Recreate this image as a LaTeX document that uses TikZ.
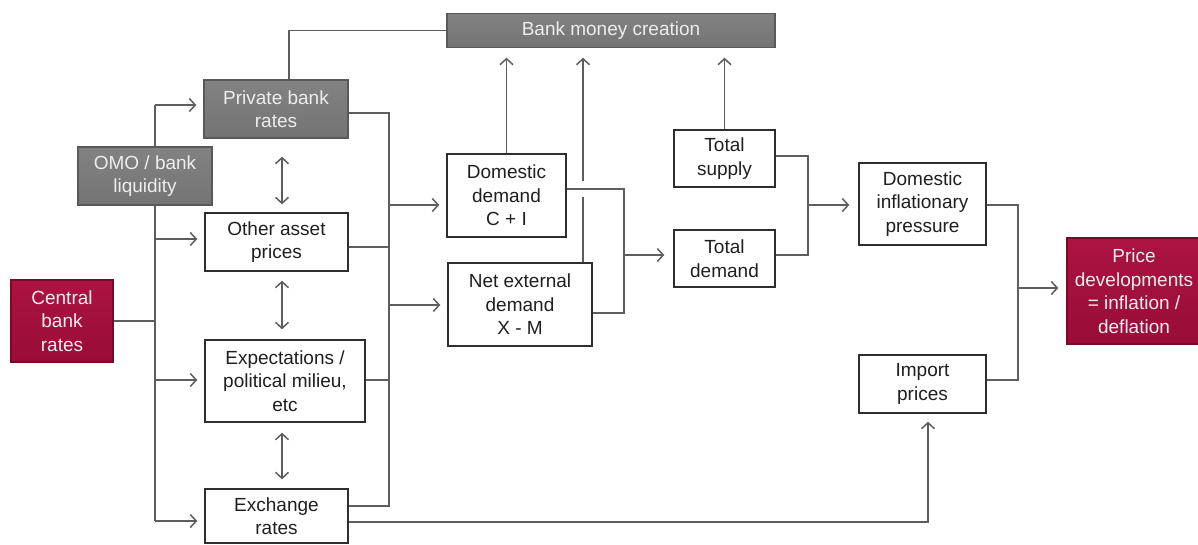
\documentclass[tikz,border=0pt]{standalone}
\usepackage{fontspec}
\setmainfont{Liberation Sans}
\usetikzlibrary{arrows.meta,calc}
\pgfdeclarelayer{back}
\pgfdeclarelayer{bg}
\pgfsetlayers{back,bg,main}
\definecolor{crimtop}{HTML}{AC1342}
\definecolor{crimbot}{HTML}{980D37}
\definecolor{greytop}{HTML}{828282}
\definecolor{greybot}{HTML}{747474}
\definecolor{lncol}{HTML}{5E5E5E}
\begin{document}
\begin{tikzpicture}[x=1pt,y=-1pt,
  box/.style={draw=black!82,line width=1.4pt,fill=white,text=black!88,align=center,inner sep=0pt,
    font=\fontsize{19}{23.5}\selectfont},
  gbox/.style={box,draw=black!65,top color=greytop,bottom color=greybot,text=white!93!black},
  rbox/.style={box,draw=crimbot!80!black,top color=crimtop,bottom color=crimbot,text=white!93!black},
  ln/.style={draw=lncol,line width=1.8pt},
  ar/.style={ln,-{Straight Barb[length=6pt,width=13pt,line width=1.5pt]},shorten >=7pt},
  dar/.style={ln,{Straight Barb[length=6pt,width=13pt,line width=1.5pt]}-{Straight Barb[length=6pt,width=13pt,line width=1.5pt]}}
]
\path[use as bounding box] (0,0) rectangle (1198,544);
\begin{pgfonlayer}{back}
\fill[white] (0,0) rectangle (1198,544);
\end{pgfonlayer}

% nodes
\node[gbox,minimum width=328pt,minimum height=34pt] (bmc) at (611,30.5) {Bank money creation};
\node[gbox,minimum width=144pt,minimum height=58pt] (pbr) at (276,109) {Private bank\\rates};
\node[gbox,minimum width=134pt,minimum height=58pt] (omo) at (145,176) {OMO / bank\\liquidity};
\node[box,minimum width=143pt,minimum height=58pt] (oap) at (276.5,242) {Other asset\\prices};
\node[box,minimum width=160pt,minimum height=82pt] (exp) at (285,381) {Expectations /\\political milieu,\\etc};
\node[box,minimum width=143pt,minimum height=54pt] (exr) at (276.5,516) {Exchange\\rates};
\node[rbox,minimum width=102pt,minimum height=82pt] (cbr) at (62,321) {Central\\bank\\rates};
\node[box,minimum width=119pt,minimum height=83pt] (dd) at (506.5,195.5) {Domestic\\demand\\C + I};
\node[box,minimum width=144pt,minimum height=83pt] (ned) at (520,304.5) {Net external\\demand\\X - M};
\node[box,minimum width=101pt,minimum height=57pt] (ts) at (724.5,158.5) {Total\\supply};
\node[box,minimum width=101pt,minimum height=57pt] (td) at (724.5,258.5) {Total\\demand};
\node[box,minimum width=127pt,minimum height=82pt] (dip) at (922.5,204) {Domestic\\inflationary\\pressure};
\node[box,minimum width=127pt,minimum height=58pt] (imp) at (922.5,384) {Import\\prices};
\node[rbox,minimum width=134pt,minimum height=106pt] (pd) at (1134,291) {Price\\developments\\= inflation /\\deflation};

% coordinates
\coordinate (tA) at (155,105);
\coordinate (tB) at (155,239);
\coordinate (tC) at (155,380);
\coordinate (tD) at (155,521);
\coordinate (bT) at (389,113);
\coordinate (bO) at (389,247);
\coordinate (bE) at (389,380);
\coordinate (bB) at (389,506);
\coordinate (b1) at (389,205);
\coordinate (b2) at (389,305);
\coordinate (p1) at (289,30.5);
\coordinate (n1) at (583,197);
\coordinate (n2) at (583,181);
\coordinate (j1) at (624,189);
\coordinate (j2) at (624,313);
\coordinate (j3) at (624,255);
\coordinate (k1) at (808,156);
\coordinate (k2) at (808,255);
\coordinate (k3) at (808,205);
\coordinate (m1) at (1018,205);
\coordinate (m2) at (1018,380);
\coordinate (m3) at (1018,288);
\coordinate (e1) at (928,522);

\begin{pgfonlayer}{bg}
% central bank trunk
\draw[ln] (cbr.east) -- (cbr.east -| tA);
\draw[ln] (tA) -- (tD);
\draw[ar] (tA) -- (tA -| pbr.west);
\draw[ar] (tB) -- (tB -| oap.west);
\draw[ar] (tC) -- (tC -| exp.west);
\draw[ar] (tD) -- (tD -| exr.west);
% double arrows
\draw[dar] ($(pbr.south)+(6,18)$) -- ($(oap.north)+(5.5,-8)$);
\draw[dar] ($(oap.south)+(5.5,9)$) -- ($(exp.north)+(-3,-10)$);
\draw[dar] ($(exp.south)+(-3,10)$) -- ($(exr.north)+(5.5,-9)$);
% right bus
\draw[ln] (bT -| pbr.east) -- (bT) -- (bB) -- (bB -| exr.east);
\draw[ln] (bO -| oap.east) -- (bO);
\draw[ln] (bE -| exp.east) -- (bE);
\draw[ar] (b1) -- (b1 -| dd.west);
\draw[ar] (b2) -- (b2 -| ned.west);
% to bank money creation
\draw[ln] (p1 |- pbr.north) -- (p1) -- (bmc.west);
\draw[ar,shorten >=9.5pt] (dd.north) -- (dd.north |- bmc.south);
\draw[ln] (n1 |- ned.north) -- (n1);
\draw[ar,shorten >=9.5pt] (n2) -- (n2 |- bmc.south);
\draw[ar,shorten >=9.5pt] (ts.north) -- (ts.north |- bmc.south);
% demand
\draw[ln] (j1 -| dd.east) -- (j1) -- (j2) -- (j2 -| ned.east);
\draw[ar,shorten >=9pt] (j3) -- (j3 -| td.west);
\draw[ln] (k1 -| ts.east) -- (k1) -- (k2) -- (k2 -| td.east);
\draw[ar,shorten >=9pt] (k3) -- (k3 -| dip.west);
\draw[ln] (m1 -| dip.east) -- (m1) -- (m2) -- (m2 -| imp.east);
\draw[ar,shorten >=8pt] (m3) -- (m3 -| pd.west);
\draw[ar,shorten >=8pt] (e1 -| exr.east) -- (e1) -- (e1 |- imp.south);
\end{pgfonlayer}
\end{tikzpicture}
\end{document}
